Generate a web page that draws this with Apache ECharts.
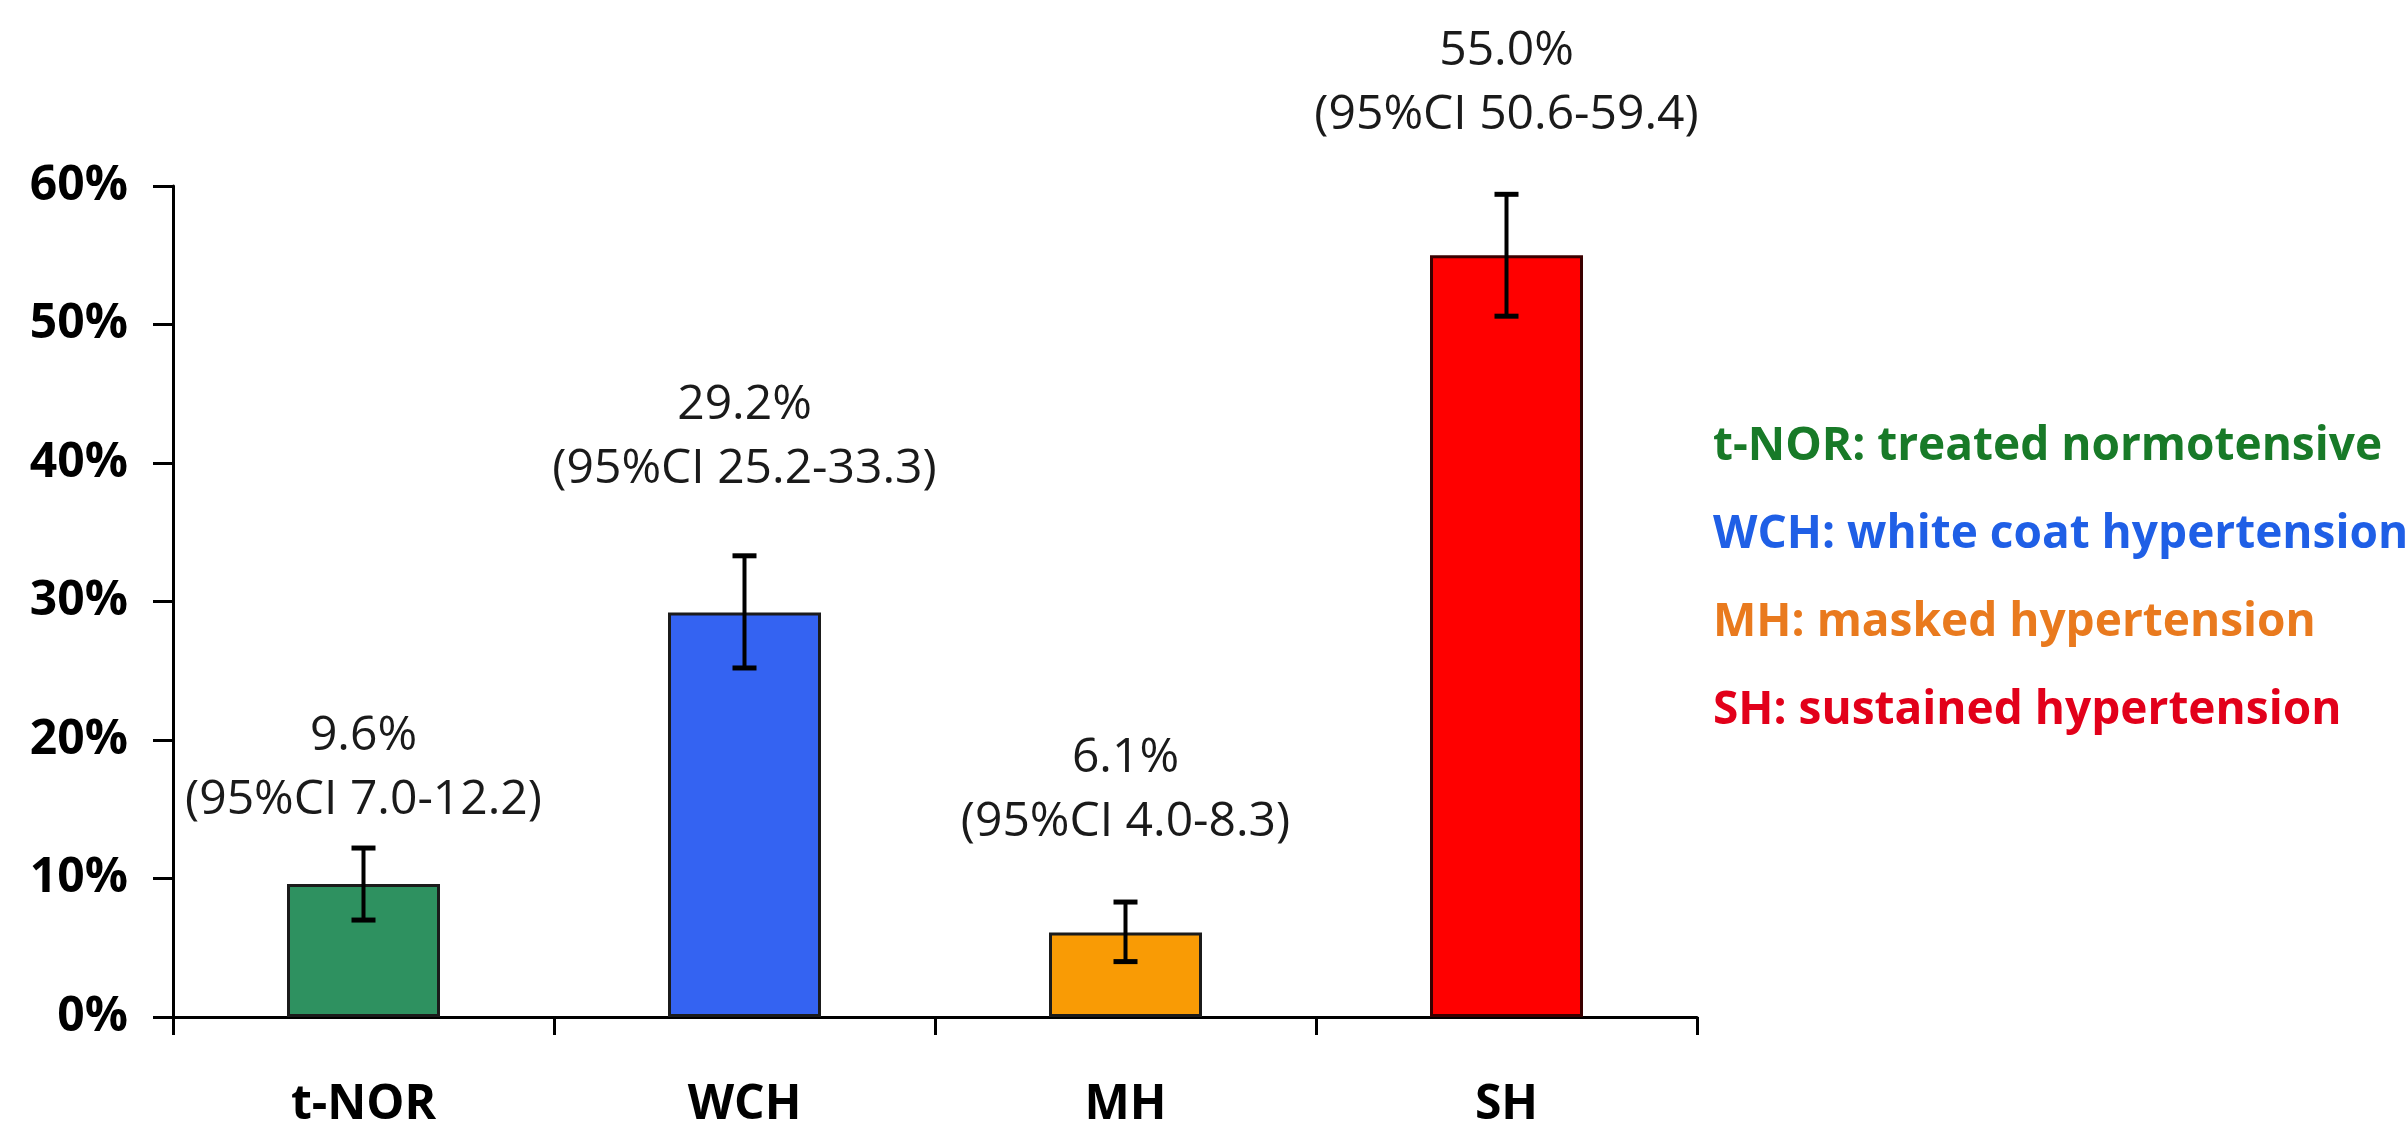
<!DOCTYPE html>
<html>
<head>
<meta charset="utf-8">
<script src="https://cdn.jsdelivr.net/npm/echarts@6/dist/echarts.min.js"></script>
<style>
html,body{margin:0;padding:0;background:#fff;overflow:hidden;}
#chart{width:2405px;height:1144px;}
</style>
</head>
<body>
<div id="chart"></div>
<script>
// ---- data ----
var categories = ['t-NOR', 'WCH', 'MH', 'SH'];
var prevalence = [9.6, 29.2, 6.1, 55.0];
var ciLow = [7.0, 25.2, 4.0, 50.6];
var ciHigh = [12.2, 33.3, 8.3, 59.4];
var yTicks = [0, 10, 20, 30, 40, 50, 60];
var legendTexts = [
  't-NOR: treated normotensive',
  'WCH: white coat hypertension',
  'MH: masked hypertension',
  'SH: sustained hypertension'
];

// ---- styles ----
var barColors = ['#2E9160', '#3463F2', '#F99B05', '#FF0000'];
var barBorders = ['#1b1b1b', '#1b1b1b', '#1b1b1b', '#3a0000'];
var legendColors = ['#187A28', '#1F5FE6', '#E97A1E', '#E2001A'];
var labelLift = [48, 86, 80, 79]; // px from upper CI cap to CI text line centre
var FONT = '"Open Sans", "Noto Sans", sans-serif';

var chart = echarts.init(document.getElementById('chart'), null, {renderer: 'canvas'});

var barData = prevalence.map(function (v, i) {
  return {
    value: v,
    itemStyle: {color: barColors[i], borderColor: barBorders[i], borderWidth: 3}
  };
});
var errData = categories.map(function (c, i) {
  return [i, ciLow[i], ciHigh[i], prevalence[i]];
});

var graphics = legendTexts.map(function (t, i) {
  return {
    type: 'text',
    x: 1713,
    y: 447 + i * 88,
    style: {
      text: t,
      fill: legendColors[i],
      font: 'bold 46px ' + FONT,
      verticalAlign: 'middle',
      align: 'left'
    }
  };
});

var option = {
  backgroundColor: '#ffffff',
  animation: false,
  grid: {left: 173, right: 708, top: 186, bottom: 127, containLabel: false},
  xAxis: {
    type: 'category',
    data: categories,
    boundaryGap: true,
    axisLine: {show: true, lineStyle: {color: '#000', width: 3}},
    axisTick: {show: true, length: 18, inside: false, lineStyle: {color: '#000', width: 3}},
    axisLabel: {
      color: '#000',
      fontFamily: FONT,
      fontWeight: 'bold',
      fontSize: 48,
      margin: 64
    },
    splitLine: {show: false}
  },
  yAxis: {
    type: 'value',
    min: yTicks[0],
    max: yTicks[yTicks.length - 1],
    interval: yTicks[1] - yTicks[0],
    axisLine: {show: true, lineStyle: {color: '#000', width: 3}},
    axisTick: {show: true, length: 20, inside: false, lineStyle: {color: '#000', width: 3}},
    axisLabel: {
      color: '#000',
      fontFamily: FONT,
      fontWeight: 'bold',
      fontSize: 48,
      margin: 45,
      formatter: '{value}%'
    },
    splitLine: {show: false}
  },
  series: [
    {
      type: 'bar',
      data: barData,
      barWidth: 153,
      z: 2
    },
    {
      type: 'custom',
      data: errData,
      clip: false,
      z: 5,
      renderItem: function (params, api) {
        var i = api.value(0);
        var lo = api.value(1), hi = api.value(2), v = api.value(3);
        var pLo = api.coord([i, lo]);
        var pHi = api.coord([i, hi]);
        var x = pLo[0];
        var capW = 12;
        var ciY = pHi[1] - labelLift[i];
        return {
          type: 'group',
          children: [
            {type: 'line', shape: {x1: x, y1: pLo[1], x2: x, y2: pHi[1]}, style: {stroke: '#000', lineWidth: 4}},
            {type: 'line', shape: {x1: x - capW, y1: pHi[1], x2: x + capW, y2: pHi[1]}, style: {stroke: '#000', lineWidth: 5}},
            {type: 'line', shape: {x1: x - capW, y1: pLo[1], x2: x + capW, y2: pLo[1]}, style: {stroke: '#000', lineWidth: 5}},
            {
              type: 'text',
              style: {
                text: '(95%CI ' + lo.toFixed(1) + '-' + hi.toFixed(1) + ')',
                x: x, y: ciY,
                fill: '#1a1a1a',
                font: '48px ' + FONT,
                align: 'center', verticalAlign: 'middle'
              }
            },
            {
              type: 'text',
              style: {
                text: v.toFixed(1) + '%',
                x: x, y: ciY - 64,
                fill: '#1a1a1a',
                font: '48px ' + FONT,
                align: 'center', verticalAlign: 'middle'
              }
            }
          ]
        };
      }
    }
  ],
  graphic: graphics
};
chart.setOption(option);
</script>
</body>
</html>
